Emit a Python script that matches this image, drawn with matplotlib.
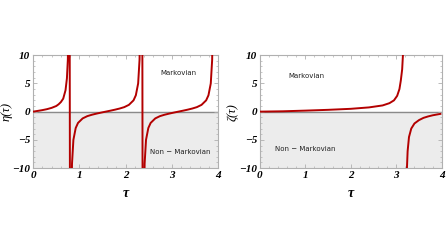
import matplotlib
matplotlib.use("Agg")
import matplotlib.pyplot as plt
from matplotlib.ticker import MultipleLocator

# eta(tau): left panel (jumps drawn as joined segments)
eta_tau = [0.0, 0.1, 0.2, 0.3, 0.4, 0.5, 0.55, 0.6, 0.65, 0.7, 0.73, 0.75, 0.77, 0.785,
           0.80, 0.82, 0.84, 0.87, 0.92, 0.97, 1.07, 1.17, 1.27, 1.37, 1.47, 1.57,
           1.67, 1.77, 1.87, 1.97, 2.07, 2.17, 2.22, 2.27, 2.30, 2.32, 2.34, 2.356,
           2.37, 2.39, 2.41, 2.44, 2.49, 2.54, 2.64, 2.74, 2.84, 2.94, 3.04, 3.14,
           3.24, 3.34, 3.44, 3.54, 3.64, 3.74, 3.79, 3.84, 3.87, 3.89, 3.91, 3.93]
eta_val = [0.0, 0.13, 0.27, 0.44, 0.67, 1.0, 1.3, 1.7, 2.3, 3.8, 5.9, 9.2, 21, 40,
           -40, -21, -9.2, -5.0, -2.9, -2.0, -1.2, -0.8, -0.55, -0.35, -0.17, 0.0,
           0.17, 0.35, 0.55, 0.8, 1.2, 2.0, 2.9, 5.0, 9.2, 21, 40, 40,
           -40, -21, -9.2, -5.0, -2.9, -2.0, -1.2, -0.8, -0.55, -0.35, -0.17, 0.0,
           0.17, 0.35, 0.55, 0.8, 1.2, 2.0, 2.9, 5.0, 9.2, 21, 40, 40]

# zeta(tau): right panel, two branches either side of the pole near 3.18
zeta_tau_a = [0.0, 0.5, 1.0, 1.5, 2.0, 2.4, 2.7, 2.85, 2.95, 3.02, 3.07, 3.1, 3.13, 3.15, 3.17]
zeta_val_a = [0.0, 0.06, 0.18, 0.32, 0.5, 0.75, 1.1, 1.5, 2.0, 2.8, 4.0, 5.5, 7.5, 10.5, 20]
zeta_tau_b = [3.21, 3.23, 3.25, 3.28, 3.33, 3.4, 3.5, 3.6, 3.7, 3.8, 3.9, 3.97]
zeta_val_b = [-20, -11, -7, -4.5, -3.0, -2.1, -1.5, -1.1, -0.85, -0.65, -0.5, -0.4]

x_ticks = [0, 1, 2, 3, 4]
y_ticks = [-10, -5, 0, 5, 10]
y_tick_labels = ["\u221210", "\u22125", "0", "5", "10"]

red = "#b30000"
frame = "#b0b0b0"
tick_font = dict(family="Liberation Serif", style="italic", weight="bold", size=8)

fig = plt.figure(figsize=(4.48, 2.52), dpi=100)
ax1 = fig.add_axes([0.074, 0.333, 0.413, 0.448])
ax2 = fig.add_axes([0.58, 0.333, 0.406, 0.448])


def style_axes(ax, ylabel):
    ax.set_xlim(0, 4)
    ax.set_ylim(-10, 10)
    ax.axhspan(-10, 0, color="#ececec", zorder=0)
    ax.axhline(0, color="#8a8a8a", lw=1.0, zorder=1)
    for s in ax.spines.values():
        s.set_color(frame)
        s.set_linewidth(0.8)
    ax.set_xticks(x_ticks)
    ax.set_yticks(y_ticks)
    ax.set_xticklabels([str(t) for t in x_ticks], fontdict=tick_font)
    ax.set_yticklabels(y_tick_labels, fontdict=tick_font)
    ax.xaxis.set_minor_locator(MultipleLocator(0.2))
    ax.yaxis.set_minor_locator(MultipleLocator(1))
    ax.tick_params(which="both", direction="in", top=True, right=True,
                   color=frame, pad=2)
    ax.tick_params(which="major", length=3, width=0.6)
    ax.tick_params(which="minor", length=1.5, width=0.5)
    ax.set_xlabel("\u03c4", family="Liberation Serif", style="italic",
                  weight="bold", size=10, labelpad=5)
    ax.set_ylabel(ylabel, family="Liberation Serif", style="italic",
                  size=9, labelpad=0)


style_axes(ax1, "\u03b7(\u03c4)")
ax1.plot(eta_tau, eta_val, color=red, lw=1.4, zorder=3)
ax1.text(3.15, 6.8, "Markovian", fontsize=5, ha="center", va="center", color="#222222")
ax1.text(3.18, -7.2, "Non \u2212 Markovian", fontsize=5, ha="center", va="center", color="#222222")

style_axes(ax2, "\u03b6(\u03c4)")
ax2.plot(zeta_tau_a, zeta_val_a, color=red, lw=1.4, zorder=3)
ax2.plot(zeta_tau_b, zeta_val_b, color=red, lw=1.4, zorder=3)
ax2.text(1.02, 6.3, "Markovian", fontsize=5, ha="center", va="center", color="#222222")
ax2.text(1.0, -6.6, "Non \u2212 Markovian", fontsize=5, ha="center", va="center", color="#222222")

fig.savefig("out.png", dpi=100, facecolor="white")
